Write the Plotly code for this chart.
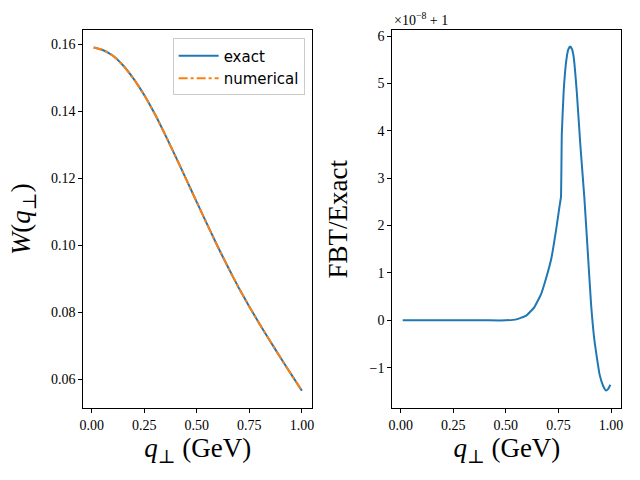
import plotly.graph_objects as go
from plotly.subplots import make_subplots

# Left panel: W(q_perp)
q_left = [0.01, 0.05, 0.10, 0.15, 0.20, 0.25, 0.30, 0.35, 0.40, 0.45, 0.50,
          0.55, 0.60, 0.65, 0.70, 0.75, 0.80, 0.85, 0.90, 0.95, 1.00]
W_exact = [0.1591, 0.1584, 0.1567, 0.1537, 0.1497, 0.1449, 0.1393, 0.1330,
           0.1264, 0.1197, 0.1129, 0.1062, 0.0996, 0.0933, 0.0873, 0.0817,
           0.0764, 0.0713, 0.0663, 0.0614, 0.0566]
W_numerical = [0.1591, 0.1584, 0.1567, 0.1537, 0.1497, 0.1449, 0.1393, 0.1330,
               0.1264, 0.1197, 0.1129, 0.1062, 0.0996, 0.0933, 0.0873, 0.0817,
               0.0764, 0.0713, 0.0663, 0.0614, 0.0566]

# Right panel: (FBT/Exact - 1) in units of 1e-8
q_right = [0.01, 0.10, 0.20, 0.30, 0.40, 0.50, 0.55, 0.597, 0.636, 0.668,
           0.692, 0.716, 0.739, 0.755, 0.762, 0.766, 0.775, 0.787, 0.797,
           0.806, 0.815, 0.823, 0.837, 0.854, 0.873, 0.889, 0.905, 0.921,
           0.945, 0.962, 0.976, 0.986, 0.997]
ratio_e8 = [0.0, 0.0, 0.0, 0.0, 0.0, 0.0, 0.02, 0.10, 0.28, 0.56,
            0.90, 1.30, 1.91, 2.40, 2.60, 3.92, 4.84, 5.47, 5.72,
            5.78, 5.72, 5.54, 4.84, 3.71, 2.60, 1.48, 0.35, -0.42,
            -1.13, -1.38, -1.48, -1.45, -1.36]

x_ticks = [0.0, 0.25, 0.5, 0.75, 1.0]
left_y_ticks = [0.06, 0.08, 0.10, 0.12, 0.14, 0.16]
right_y_ticks = [-1, 0, 1, 2, 3, 4, 5, 6]

BLUE = "#1f77b4"
ORANGE = "#ff7f0e"
SERIF = "Liberation Serif, DejaVu Serif, serif"
SANS = "DejaVu Sans, sans-serif"

fig = make_subplots(rows=1, cols=2)

fig.add_trace(go.Scatter(x=q_left, y=W_exact, mode="lines", name="exact",
                         line=dict(color=BLUE, width=2, shape="spline", smoothing=0.5)),
              row=1, col=1)
fig.add_trace(go.Scatter(x=q_left, y=W_numerical, mode="lines", name="numerical",
                         line=dict(color=ORANGE, width=2, dash="dashdot",
                                   shape="spline", smoothing=0.5)),
              row=1, col=1)
fig.add_trace(go.Scatter(x=q_right, y=ratio_e8, mode="lines", showlegend=False,
                         line=dict(color=BLUE, width=2, shape="spline", smoothing=0.35)),
              row=1, col=2)

axis_common = dict(showline=True, linecolor="black", linewidth=1, mirror=True,
                   ticks="outside", ticklen=4, tickwidth=1, tickcolor="black",
                   showgrid=False, zeroline=False, automargin=False,
                   tickfont=dict(family=SERIF, size=14, color="black"))

fig.update_xaxes(**axis_common, tickvals=x_ticks, tickformat=".2f",
                 range=[-0.0395, 1.0495],
                 title=dict(text="<i>q</i><sub>⊥</sub> (GeV)", standoff=4,
                            font=dict(family=SERIF, size=27, color="black")))
fig.update_xaxes(domain=[0.1302, 0.488], row=1, col=1)
fig.update_xaxes(domain=[0.613, 0.971], row=1, col=2)

fig.update_yaxes(**axis_common, domain=[0.149, 0.9375])
fig.update_yaxes(row=1, col=1, tickvals=left_y_ticks, tickformat=".2f",
                 range=[0.0513, 0.1643],
                 title=dict(text="<i>W</i>(<i>q</i><sub>⊥</sub>)", standoff=12,
                            font=dict(family=SERIF, size=27, color="black")))
fig.update_yaxes(row=1, col=2, tickvals=right_y_ticks, tickformat="d",
                 range=[-1.86, 6.127],
                 title=dict(text="FBT/Exact", standoff=14,
                            font=dict(family=SERIF, size=27, color="black")))

fig.add_annotation(text="×10<sup>−8</sup> + 1", xref="paper", yref="paper",
                   x=0.613, y=0.9375, xanchor="left", yanchor="bottom",
                   showarrow=False, font=dict(family=SERIF, size=14, color="black"))

fig.update_layout(
    width=640, height=480,
    margin=dict(l=0, r=0, t=0, b=0),
    paper_bgcolor="white", plot_bgcolor="white",
    legend=dict(x=0.476, y=0.92, xanchor="right", yanchor="top",
                bgcolor="rgba(255,255,255,0.8)", bordercolor="#cccccc", borderwidth=1,
                font=dict(family=SANS, size=15, color="black"),
                itemwidth=40, tracegroupgap=2),
)

fig.write_html("out.html", config={"displayModeBar": False},
               post_script="document.body.style.margin='0';document.body.style.padding='0';")
